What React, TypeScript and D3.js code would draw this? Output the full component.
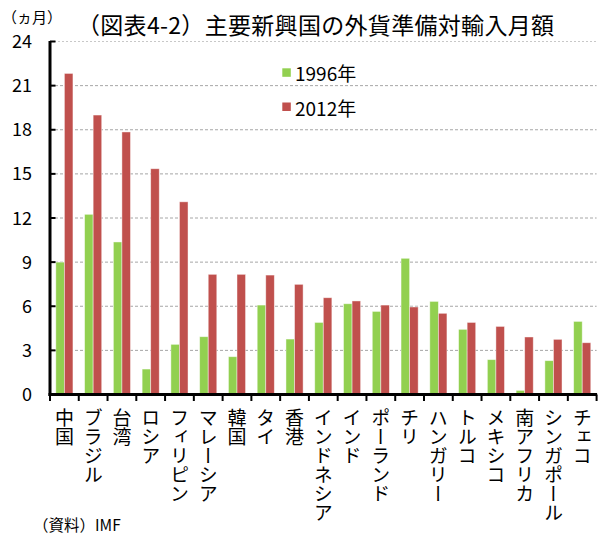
import React from "react";
import * as d3 from "d3";

const categories = ["中国","ブラジル","台湾","ロシア","フィリピン","マレーシア","韓国","タイ","香港","インドネシア","インド","ポーランド","チリ","ハンガリー","トルコ","メキシコ","南アフリカ","シンガポール","チェコ"];
const values1996 = [9.0,12.25,10.37,1.73,3.41,3.93,2.57,6.08,3.77,4.9,6.17,5.65,9.26,6.33,4.43,2.37,0.28,2.3,4.97];
const values2012 = [21.83,19.0,17.85,15.35,13.1,8.17,8.17,8.12,7.49,6.58,6.36,6.08,5.95,5.52,4.9,4.63,3.91,3.75,3.52];
const seriesNames = ["1996年","2012年"];
const seriesColors = ["#92D050","#C0504D"];
const yTicks = [0,3,6,9,12,15,18,21,24];
const title = "（図表4-2）主要新興国の外貨準備対輸入月額";
const unitLabel = "（ヵ月）";
const sourceNote = "（資料）IMF";

const W = 600, H = 538;
const FONT = "'Noto Sans CJK JP', 'Noto Sans', sans-serif";

export default function App() {
  const x0 = 50, x1 = 596.6;
  const yBottom = 394.5, yTop = 41.5;
  const x = d3.scaleBand<string>().domain(categories).range([x0, x1]).paddingInner(0).paddingOuter(0);
  const xs = d3.scaleBand<string>().domain(seriesNames).range([0, x.bandwidth()]).paddingInner(0).paddingOuter(0.68);
  const y = d3.scaleLinear().domain([0, 24]).range([yBottom, yTop]);
  const series = [values1996, values2012];
  const boundaries = d3.range(categories.length + 1).map(i => x0 + i * x.step());

  return (
    <svg width={W} height={H} style={{ position: "absolute", left: 0, top: 0, background: "#fff" }} fontFamily={FONT}>
      <rect width={W} height={H} fill="#fff" />
      {/* gridlines */}
      {yTicks.filter(t => t > 0).map(t => (
        <line key={"g" + t} x1={x0} x2={x1} y1={y(t)} y2={y(t)}
          stroke={t === 24 ? "#c8c8c8" : "#a6a6a6"} strokeWidth={1} strokeDasharray={t === 24 ? "2,2" : "3,2"} />
      ))}
      {/* title */}
      <text x={77} y={34} fontSize={23} textLength={477} lengthAdjust="spacing" fill="#000">{title}</text>
      <text x={2} y={23} fontSize={15} fill="#000">{unitLabel}</text>
      {/* bars */}
      {series.map((vals, si) => (
        <g key={"s" + si}>
          {vals.map((v, i) => (
            <rect key={i}
              x={(x(categories[i]) as number) + (xs(seriesNames[si]) as number)}
              y={y(v)}
              width={xs.bandwidth()}
              height={yBottom - y(v)}
              fill={seriesColors[si]}
              stroke="rgba(255,255,255,0.55)" strokeWidth={0.8} />
          ))}
        </g>
      ))}
      {/* y axis */}
      <line x1={x0} x2={x0} y1={yTop - 0.5} y2={yBottom + 1.5} stroke="#000" strokeWidth={3} />
      {yTicks.map(t => (
        <g key={"yt" + t}>
          <line x1={x0} x2={x0 + 5.5} y1={y(t)} y2={y(t)} stroke="#000" strokeWidth={2} />
          <text x={32} y={y(t) - 1.5} fontSize={18} textAnchor="end" dominantBaseline="central" fill="#000">{t}</text>
        </g>
      ))}
      {/* x axis */}
      <line x1={x0 - 1.5} x2={x1 + 0.5} y1={yBottom} y2={yBottom} stroke="#000" strokeWidth={3} />
      {boundaries.map((b, i) => (
        <line key={"xt" + i} x1={b} x2={b} y1={yBottom} y2={yBottom + 6.5} stroke="#000" strokeWidth={2} />
      ))}
      {categories.map(c => (
        <text key={"xl" + c} x={(x(c) as number) + x.bandwidth() / 2} y={408} fontSize={19} fill="#000"
          style={{ writingMode: "vertical-rl" }}>{c}</text>
      ))}
      {/* legend */}
      {seriesNames.map((s, i) => (
        <g key={"lg" + s}>
          <rect x={282.3} y={68.3 + i * 34.2} width={8.5} height={8.5} fill={seriesColors[i]} />
          <text x={295} y={72.8 + i * 34.2} fontSize={19} dominantBaseline="central" fill="#000">{s}</text>
        </g>
      ))}
      <text x={33} y={531} fontSize={15.5} fill="#000">{sourceNote}</text>
    </svg>
  );
}
